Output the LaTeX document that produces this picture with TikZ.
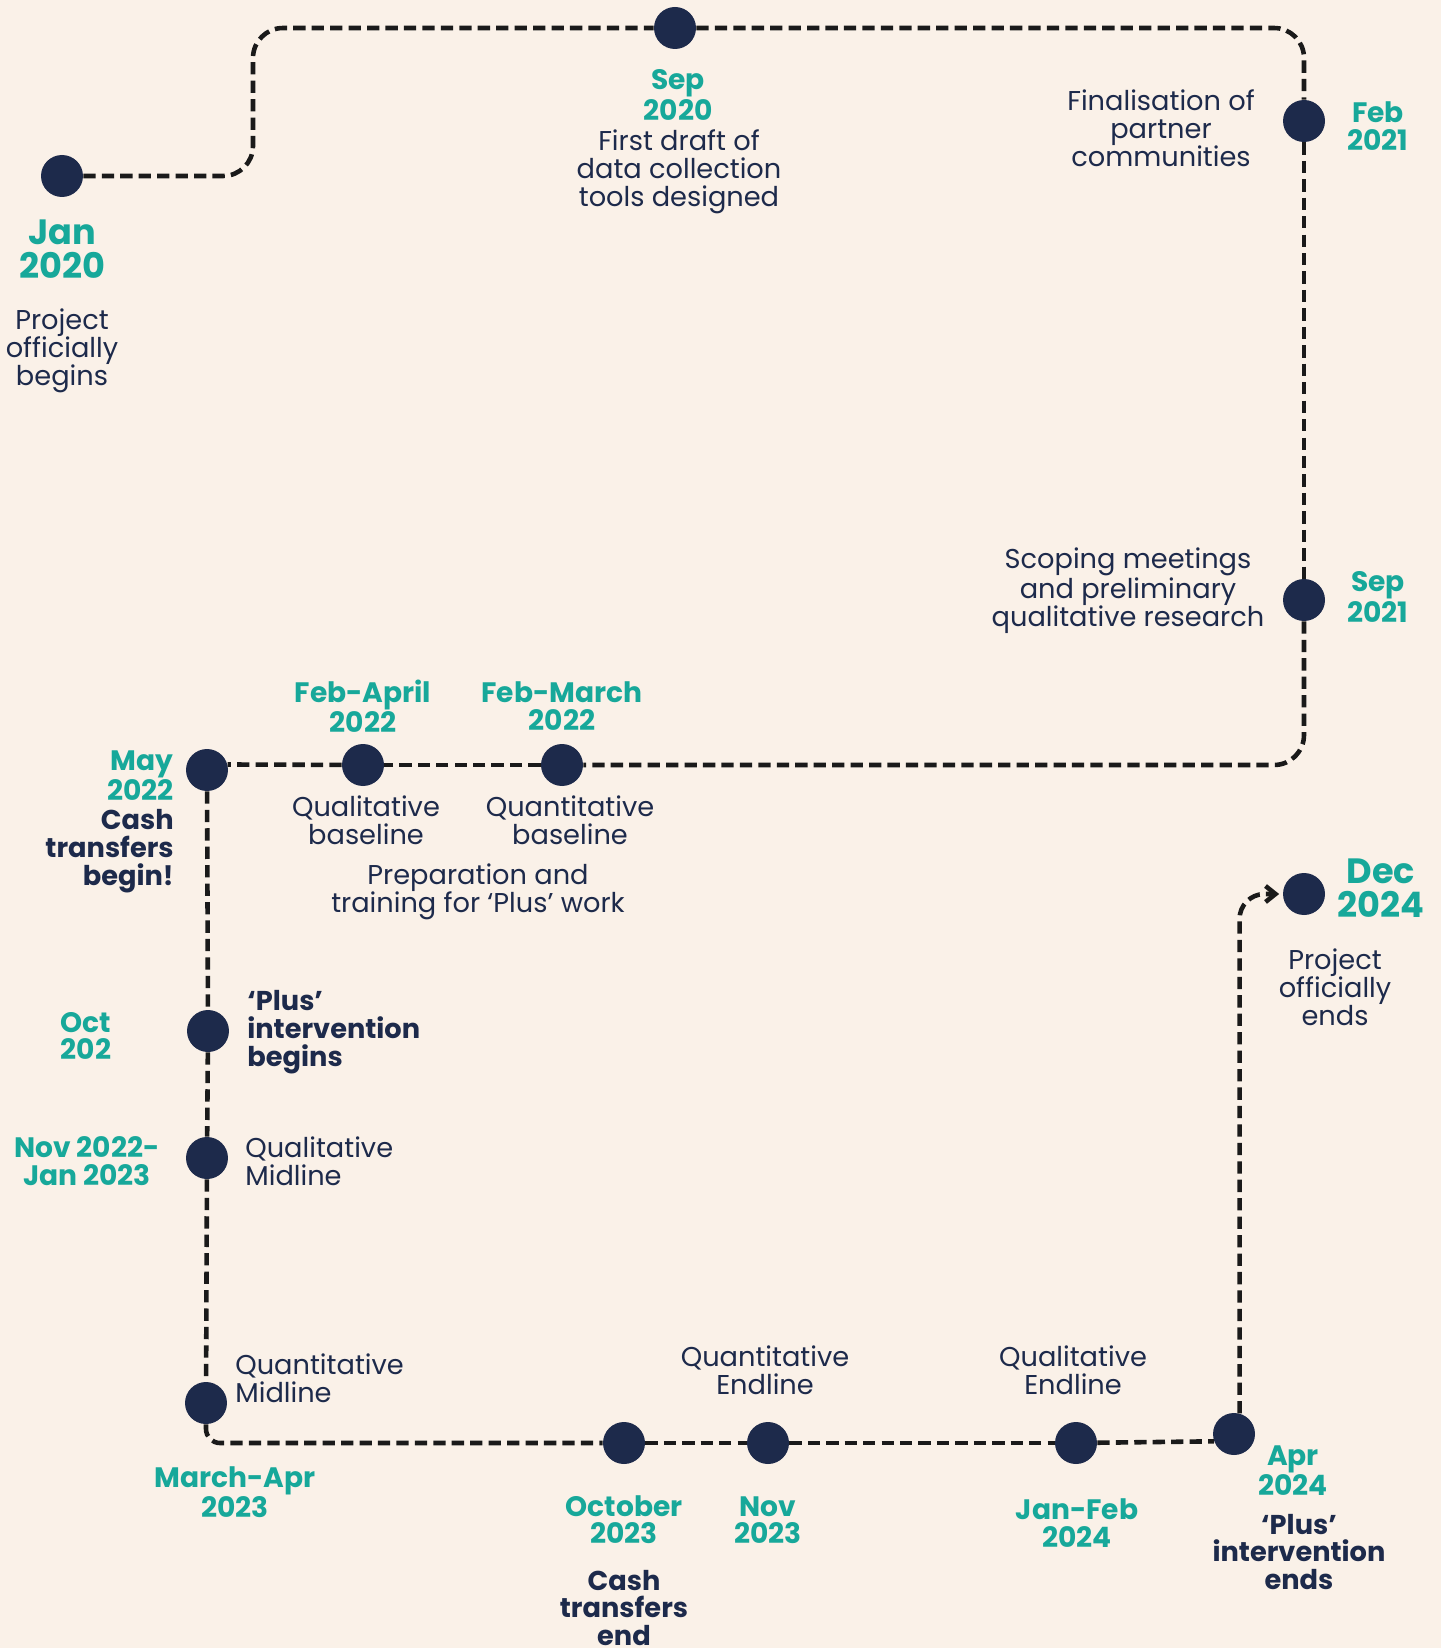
\documentclass[tikz,border=0pt]{standalone}
\usepackage{fontspec}
\setmainfont{Poppins}
\usetikzlibrary{arrows.meta,positioning}
\definecolor{bgcream}{HTML}{FAF1E8}
\definecolor{tealdate}{HTML}{17A89A}
\definecolor{navydot}{HTML}{1D2A4B}
\definecolor{trackgrey}{HTML}{1A1A1A}

\begin{document}
\begin{tikzpicture}[x=0.02cm, y=-0.02cm]
      % Define styles
      \tikzstyle{milestone} = [circle, fill=navydot, minimum size=0.84cm, inner sep=0pt]
      \tikzstyle{date} = [text=tealdate, font=\fontsize{16}{15.5}\selectfont\bfseries, align=center, inner sep=0pt]
      \tikzstyle{bigdate} = [date, font=\fontsize{20}{19.3}\selectfont\bfseries]
      \tikzstyle{event} = [text=navydot, font=\fontsize{15.5}{15.9}\selectfont, align=center, inner sep=0pt]
      \tikzstyle{keyevent} = [event, font=\fontsize{15.5}{15.9}\selectfont\bfseries]
      \tikzstyle{track} = [draw=trackgrey, line width=2.6pt, dash pattern=on 7pt off 3.5pt, rounded corners=0.6cm]

      \fill[bgcream] (0,0) rectangle (1441,1648);
      \useasboundingbox (0,0) rectangle (1441,1648);

      % Place milestones
      \node [milestone] (jan20) at (62,176) {};
      \node [milestone] (sep20) at (675,28) {};
      \node [milestone] (feb21) at (1304,121) {};
      \node [milestone] (sep21) at (1304,600) {};
      \node [milestone] (febmar22) at (562,765) {};
      \node [milestone] (febapr22) at (363,765) {};
      \node [milestone] (may22) at (207,770) {};
      \node [milestone] (oct22) at (208,1031) {};
      \node [milestone] (nov22) at (207,1158) {};
      \node [milestone] (marapr23) at (206,1403) {};
      \node [milestone] (oct23) at (624,1443) {};
      \node [milestone] (nov23) at (768,1443) {};
      \node [milestone] (janfeb24) at (1076,1443) {};
      \node [milestone] (apr24) at (1234,1434) {};
      \node [milestone] (dec24) at (1304,894) {};

      % Place labels
      \node [bigdate] (jan20date) at (62,249) {Jan\\2020};
      \node [event] (jan20text) at (62,351) {Project\\officially\\begins};
      \node [date] (sep20date) at (678,95) {Sep\\2020};
      \node [event] (sep20text) at (679,172) {First draft of\\data collection\\tools designed};
      \node [event] (feb21text) at (1161,128) {Finalisation of\\partner\\communities};
      \node [date] (feb21date) at (1378,126) {Feb\\2021};
      \node [event] (sep21text) at (1128,591) {Scoping meetings\\and preliminary\\qualitative research};
      \node [date] (sep21date) at (1378,597) {Sep\\2021};
      \node [date] (febapr22date) at (363,706) {Feb-April\\2022};
      \node [date] (febmar22date) at (562,706) {Feb-March\\2022};
      \node [date, anchor=east, align=right] (may22date) at (174,776) {May\\2022};
      \node [keyevent, anchor=east, align=right] (may22text) at (174,851) {Cash\\transfers\\begin!};
      \node [event] (febapr22text) at (366,820) {Qualitative\\baseline};
      \node [event] (febmar22text) at (570,820) {Quantitative\\baseline};
      \node [event] (preptext) at (478,892) {Preparation and\\training for ‘Plus’ work};
      \node [date] (oct22date) at (86,1036) {Oct\\202};
      \node [keyevent, anchor=west, align=left] (oct22text) at (247,1032) {‘Plus’\\intervention\\begins};
      \node [date] (nov22date) at (87,1161) {Nov 2022-\\Jan 2023};
      \node [event, anchor=west, align=left] (nov22text) at (245,1161) {Qualitative\\Midline};
      \node [event, anchor=west, align=left] (marapr23text) at (235,1378) {Quantitative\\Midline};
      \node [date] (marapr23date) at (235,1492) {March-Apr\\2023};
      \node [date] (oct23date) at (624,1520) {October\\2023};
      \node [keyevent] (oct23text) at (624,1608) {Cash\\transfers\\end};
      \node [event] (nov23text) at (765,1370) {Quantitative\\Endline};
      \node [date] (nov23date) at (768,1520) {Nov\\2023};
      \node [event] (janfeb24text) at (1073,1370) {Qualitative\\Endline};
      \node [date] (janfeb24date) at (1077,1523) {Jan-Feb\\2024};
      \node [date] (apr24date) at (1293,1471) {Apr\\2024};
      \node [keyevent] (apr24text) at (1299,1552) {‘Plus’\\intervention\\ends};
      \node [bigdate] (dec24date) at (1381,888) {Dec\\2024};
      \node [event] (dec24text) at (1335,987) {Project\\officially\\ends};

      % Draw track
      \draw [track] (jan20) -- ++(191,0) |- (sep20);
      \draw [track] (sep20) -| (feb21);
      \draw [track] (feb21) -- (sep21);
      \draw [track] (sep21) |- (febmar22);
      \draw [track] (febmar22) -- (febapr22);
      \draw [track] (febapr22) -- (may22.15);
      \draw [track] (may22) -- (oct22);
      \draw [track] (oct22) -- (nov22);
      \draw [track] (nov22) -- (marapr23);
      \draw [track, rounded corners=8pt] (marapr23) |- (oct23);
      \draw [track] (oct23) -- (nov23);
      \draw [track] (nov23) -- (janfeb24);
      \draw [track] (janfeb24) -- (apr24.200);
      \draw [track, rounded corners=0.5cm, -{Straight Barb[length=2mm, width=3.2mm]}, shorten >=2pt] (apr24.75) |- (dec24);
    \end{tikzpicture}
\end{document}
